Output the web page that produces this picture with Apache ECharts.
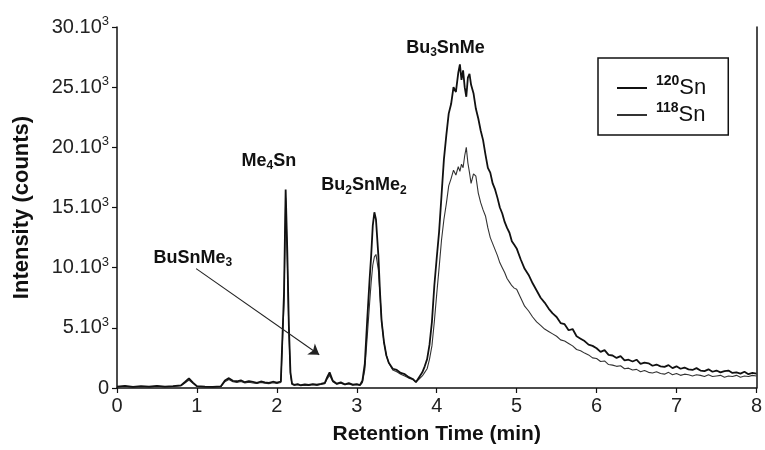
<!DOCTYPE html>
<html>
<head>
<meta charset="utf-8">
<script src="https://cdn.jsdelivr.net/npm/echarts@6/dist/echarts.min.js"></script>
<style>
  html, body { margin: 0; padding: 0; background: #fff; }
  #chart { width: 765px; height: 450px; }
</style>
</head>
<body>
<div id="chart"></div>
<script>
// retention time (min)
var times = [
  0, 0.1, 0.2, 0.3, 0.4, 0.5, 0.6, 0.7, 0.8, 0.85, 0.9, 0.95, 1.0, 1.1, 1.2, 1.3,
  1.35, 1.4, 1.45, 1.5, 1.55, 1.6, 1.65, 1.7, 1.75, 1.8, 1.85, 1.9, 1.95, 2.0, 2.05,
  2.07, 2.09, 2.11, 2.13, 2.15, 2.17, 2.19,
  2.22, 2.26, 2.3, 2.35, 2.4, 2.45, 2.5, 2.55, 2.6, 2.63, 2.66, 2.7, 2.75, 2.8, 2.85, 2.9, 2.95, 3.0, 3.04,
  3.07, 3.1, 3.13, 3.16, 3.18, 3.2, 3.22, 3.24, 3.27, 3.29, 3.31, 3.34, 3.37, 3.4, 3.45, 3.5, 3.55, 3.6, 3.65, 3.7, 3.74, 3.78,
  3.82, 3.85, 3.88, 3.91, 3.94, 3.97, 4.0, 4.03, 4.06, 4.09, 4.12, 4.15, 4.18, 4.21, 4.24, 4.27, 4.29, 4.31, 4.33, 4.35,
  4.37, 4.39, 4.41, 4.43, 4.46, 4.49, 4.52, 4.55, 4.58, 4.61, 4.64, 4.67, 4.7, 4.73, 4.76, 4.79, 4.82, 4.85, 4.88, 4.91, 4.94, 4.97,
  5.0, 5.05, 5.1, 5.15, 5.2, 5.25, 5.3, 5.35, 5.4, 5.45, 5.5, 5.55, 5.6, 5.65, 5.7, 5.75, 5.8, 5.85, 5.9, 5.95,
  6.0, 6.05, 6.1, 6.15, 6.2, 6.25, 6.3, 6.35, 6.4, 6.45, 6.5, 6.55, 6.6, 6.65, 6.7, 6.75, 6.8, 6.85, 6.9, 6.95,
  7.0, 7.05, 7.1, 7.15, 7.2, 7.25, 7.3, 7.35, 7.4, 7.45, 7.5, 7.55, 7.6, 7.65, 7.7, 7.75, 7.8, 7.85, 7.9, 7.95, 8.0
];

// 120Sn intensity (counts)
var sn120 = [
  120, 180, 90, 150, 110, 170, 120, 160, 220, 500, 800, 450, 150, 110, 90, 140,
  620, 820, 600, 560, 640, 480, 570, 500, 430, 540, 470, 420, 520, 450, 540,
  700, 8000, 16500, 11500, 5200, 1300, 350,
  260, 320, 230, 290, 250, 330, 270, 340, 420, 900, 1300, 600, 360, 470, 310, 400, 280, 330, 250,
  600, 2000, 5600, 9000, 11000, 13500, 14600, 14000, 11000, 8000, 5600, 3800, 2700, 2100, 1600, 1500, 1250, 1150, 900, 750, 480, 900,
  1300, 1800, 2400, 3600, 5500, 8500, 10800, 13000, 16000, 19000, 21000, 22800, 23600, 25000, 24600, 26200, 26900, 25600, 26400, 25000,
  24200, 25800, 26100, 25200, 24500, 23200, 22400, 21400, 20600, 19400, 18300, 17900, 17000, 16500, 15800, 15000, 14500, 13800, 13300, 12900, 12200, 11900,
  11600, 10700, 9900, 9400, 8700, 8100, 7500, 7100, 6600, 6200, 5900, 5400, 5300, 4800, 4900, 4300, 4100, 3900, 3600, 3500,
  3300, 3000, 3150, 2750, 2700, 2500, 2650, 2300, 2350, 2200, 2350, 2000, 2100, 2050, 1850, 1950, 1800, 1750, 1900, 1650,
  1800, 1600, 1700, 1550, 1500, 1650, 1450, 1400, 1550, 1350, 1450, 1300, 1400, 1450, 1250, 1300, 1200, 1350, 1150, 1250, 1200
];

// 118Sn intensity (counts)
var sn118 = [
  100, 140, 80, 120, 90, 140, 100, 130, 190, 420, 660, 380, 130, 90, 80, 120,
  520, 700, 520, 470, 540, 410, 480, 420, 370, 460, 400, 360, 440, 380, 460,
  600, 7200, 15800, 10800, 4700, 1100, 300,
  230, 270, 200, 250, 220, 280, 240, 290, 360, 760, 1050, 510, 310, 390, 270, 340, 240, 280, 220,
  450, 1500, 4200, 7000, 8800, 10200, 10900, 11100, 9800, 7800, 5600, 3800, 2700, 2100, 1500, 1350, 1150, 1000, 820, 700, 520, 750,
  1000, 1300, 1600, 2400, 3500, 5500, 7800, 10000, 12300, 14000, 15300, 16800, 17400, 18100, 17700, 18400, 18000, 18600, 18300, 19300,
  20000, 18700, 17900, 17000, 17800, 17600, 16200, 15400, 14800, 14300, 13300, 12500, 12000, 11500, 11000, 10400, 10000, 9600, 9100, 8800, 8500, 8300,
  8200, 7500, 6800, 6400, 5900, 5500, 5200, 4900, 4700, 4500, 4300, 4000, 3900, 3700, 3500, 3200, 3100, 2900, 2750, 2500,
  2450, 2200, 2250, 1950, 1900, 1800, 1850, 1600, 1650, 1500, 1550, 1350, 1450, 1300, 1250, 1350, 1200, 1150, 1300, 1100,
  1200, 1050, 1150, 1100, 1000, 1100, 1050, 950, 1100, 950, 1000, 1050, 900, 1000, 950, 1050, 900, 1000, 950, 1050, 1000
];

var seriesNames = ['120Sn', '118Sn'];
var yTicks = [0, 5000, 10000, 15000, 20000, 25000, 30000];

var font = '"Liberation Sans", Arial, sans-serif';

function pairs(ys) {
  return times.map(function (t, i) { return [t, ys[i]]; });
}

var myChart = echarts.init(document.getElementById('chart'));

myChart.setOption({
  animation: false,
  textStyle: { fontFamily: font, color: '#111' },
  grid: { left: 117, right: 4, top: 27, bottom: 58 },
  legend: {
    data: [
      { name: seriesNames[0], icon: 'rect', itemStyle: { color: '#111' } },
      { name: seriesNames[1], icon: 'rect', itemStyle: { color: '#333' } }
    ],
    orient: 'vertical',
    left: 598,
    top: 58,
    padding: [16, 22, 9, 19],
    itemGap: 2,
    itemWidth: 30,
    itemHeight: 2,
    borderColor: '#111',
    borderWidth: 1.5,
    borderRadius: 0,
    selectedMode: false,
    formatter: function (name) {
      return name.replace(/^(\d+)(Sn)$/, '{sup|$1}{sn|$2}');
    },
    textStyle: {
      fontFamily: font,
      color: '#111',
      padding: [0, 0, 0, 4],
      rich: {
        sup: { fontSize: 14, fontWeight: 'bold', fontFamily: font, color: '#111', verticalAlign: 'top', lineHeight: 28 },
        sn: { fontSize: 22, fontFamily: font, color: '#111', lineHeight: 28 }
      }
    }
  },
  xAxis: {
    type: 'value',
    min: 0,
    max: 8,
    interval: 1,
    name: 'Retention Time (min)',
    nameLocation: 'middle',
    nameGap: 36,
    nameTextStyle: { fontSize: 21, fontWeight: 'bold', fontFamily: font, color: '#111' },
    axisLine: { show: true, onZero: false, lineStyle: { color: '#111', width: 1.5 } },
    axisTick: { show: true, inside: false, length: 5, lineStyle: { color: '#111', width: 1.2 } },
    axisLabel: { fontSize: 20, color: '#222', margin: 8, fontFamily: font, showMaxLabel: true },
    splitLine: { show: false }
  },
  yAxis: [
    {
      type: 'value',
      min: 0,
      max: 30000,
      interval: 5000,
      name: 'Intensity (counts)',
      nameLocation: 'middle',
      nameGap: 84,
      nameTextStyle: { fontSize: 22, fontWeight: 'bold', fontFamily: font, color: '#111' },
      axisLine: { show: true, lineStyle: { color: '#111', width: 1.5 } },
      axisTick: { show: true, inside: false, length: 5, lineStyle: { color: '#111', width: 1.2 } },
      axisLabel: {
        fontSize: 20,
        color: '#222',
        margin: 8,
        fontFamily: font,
        formatter: function (v) {
          if (yTicks.indexOf(v) < 0) return '';
          return v === 0 ? '0' : (v / 1000) + '.10{sup|3}';
        },
        rich: {
          sup: { fontSize: 13, color: '#222', fontFamily: font, verticalAlign: 'top', lineHeight: 24 }
        }
      },
      splitLine: { show: false }
    },
    {
      type: 'value',
      position: 'right',
      min: 0,
      max: 30000,
      interval: 5000,
      axisLine: { show: true, lineStyle: { color: '#111', width: 1.5 } },
      axisTick: { show: false },
      axisLabel: { show: false },
      splitLine: { show: false }
    }
  ],
  series: [
    {
      name: seriesNames[0],
      type: 'line',
      symbol: 'none',
      silent: true,
      data: pairs(sn120),
      lineStyle: { color: '#111', width: 1.8 },
      itemStyle: { color: '#111' },
      z: 3,
      markPoint: {
        symbol: 'circle',
        symbolSize: 1,
        silent: true,
        itemStyle: { color: 'rgba(0,0,0,0)' },
        label: {
          show: true,
          position: 'inside',
          fontSize: 18,
          fontWeight: 'bold',
          fontFamily: font,
          color: '#111',
          lineHeight: 22,
          rich: {
            sub: { fontSize: 12, fontWeight: 'bold', fontFamily: font, color: '#111', verticalAlign: 'bottom', lineHeight: 22 }
          }
        },
        data: [
          { coord: [1.9, 18890], label: { formatter: 'Me{sub|4}Sn' } },
          { coord: [3.09, 16830], label: { formatter: 'Bu{sub|2}SnMe{sub|2}' } },
          { coord: [4.11, 28270], label: { formatter: 'Bu{sub|3}SnMe' } },
          { coord: [0.95, 10820], label: { formatter: 'BuSnMe{sub|3}' } }
        ]
      },
      markLine: {
        silent: true,
        symbol: ['none', 'arrow'],
        symbolSize: 10,
        label: { show: false },
        emphasis: { disabled: true },
        itemStyle: { color: '#222' },
        lineStyle: { color: '#222', width: 1.1, type: 'solid' },
        data: [
          [{ coord: [0.99, 9920] }, { coord: [2.53, 2760] }]
        ]
      }
    },
    {
      name: seriesNames[1],
      type: 'line',
      symbol: 'none',
      silent: true,
      data: pairs(sn118),
      lineStyle: { color: '#333', width: 1.1 },
      itemStyle: { color: '#333' },
      z: 2
    }
  ]
});
</script>
</body>
</html>
